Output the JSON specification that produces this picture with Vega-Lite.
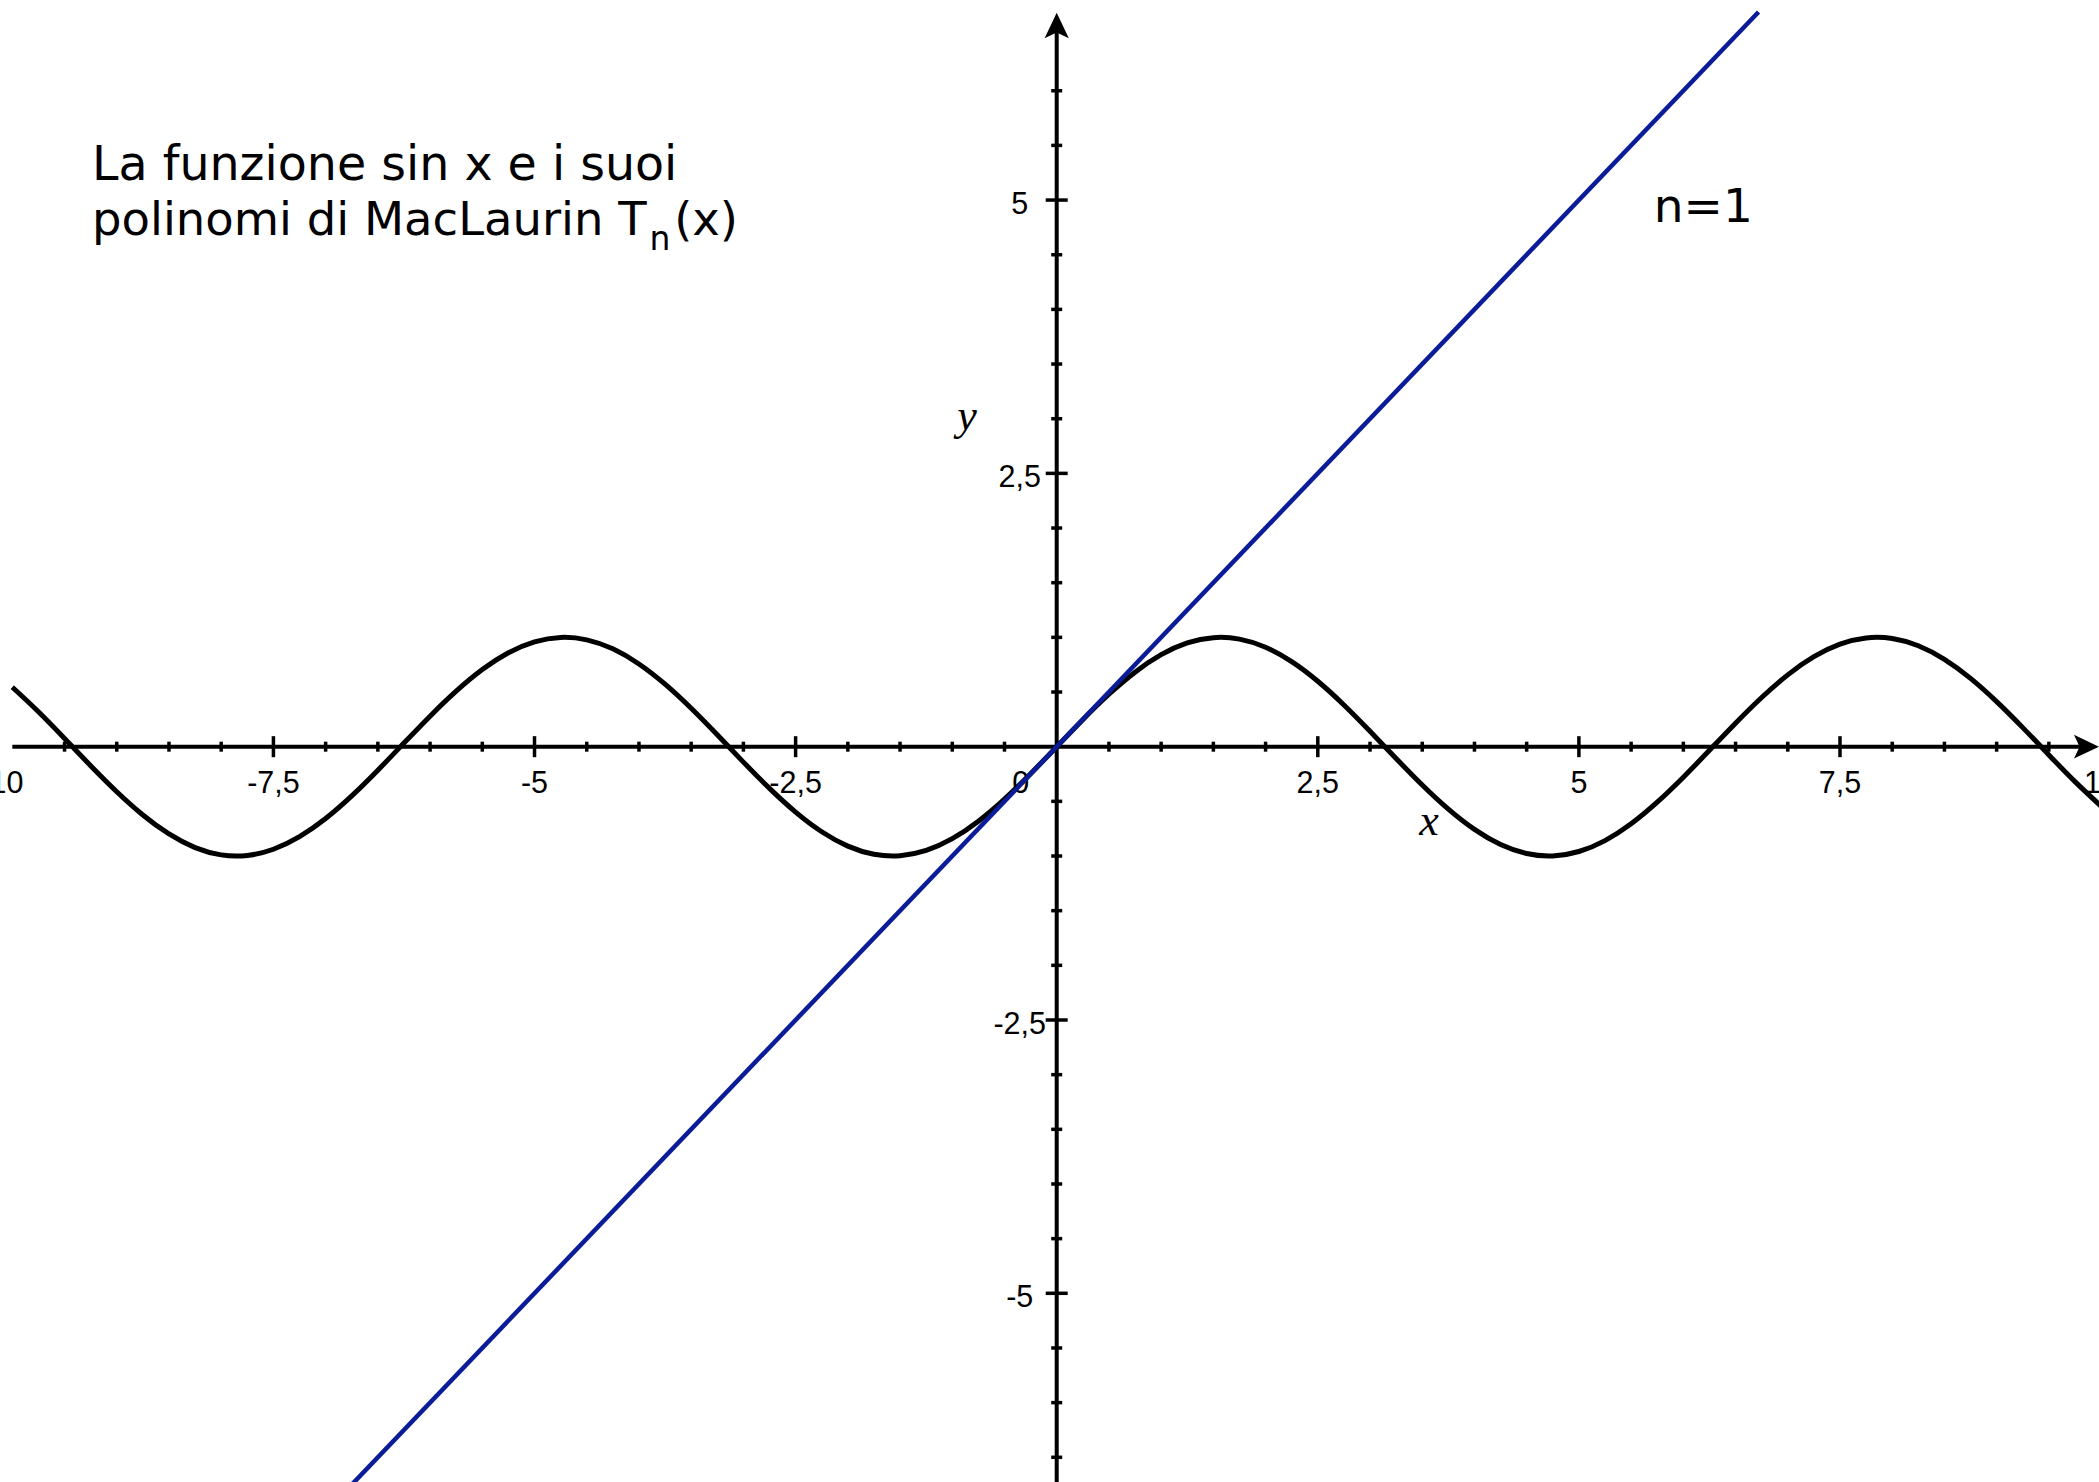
{
  "$schema": "https://vega.github.io/schema/vega-lite/v6.json",
  "width": 2099,
  "height": 1482,
  "autosize": {"type": "none"},
  "padding": 0,
  "background": "white",
  "config": {"view": {"stroke": null}},
  "datasets": {
    "xAxisLine": [{"x": -10, "x2": 9.8, "y": 0}],
    "yAxisLine": [{"x": 0, "y": -7, "y2": 6.55}],
    "xArrow": [{"x": 9.86, "y": 0}],
    "yArrow": [{"x": 0, "y": 6.597}],
    "xMajor": [{"x": -7.5, "y": 0}, {"x": -5, "y": 0}, {"x": -2.5, "y": 0}, {"x": 2.5, "y": 0}, {"x": 5, "y": 0}, {"x": 7.5, "y": 0}],
    "xMinor": [
      {"x": -9.5, "y": 0}, {"x": -9, "y": 0}, {"x": -8.5, "y": 0}, {"x": -8, "y": 0}, {"x": -7, "y": 0}, {"x": -6.5, "y": 0}, {"x": -6, "y": 0}, {"x": -5.5, "y": 0},
      {"x": -4.5, "y": 0}, {"x": -4, "y": 0}, {"x": -3.5, "y": 0}, {"x": -3, "y": 0}, {"x": -2, "y": 0}, {"x": -1.5, "y": 0}, {"x": -1, "y": 0}, {"x": -0.5, "y": 0},
      {"x": 0.5, "y": 0}, {"x": 1, "y": 0}, {"x": 1.5, "y": 0}, {"x": 2, "y": 0}, {"x": 3, "y": 0}, {"x": 3.5, "y": 0}, {"x": 4, "y": 0}, {"x": 4.5, "y": 0},
      {"x": 5.5, "y": 0}, {"x": 6, "y": 0}, {"x": 6.5, "y": 0}, {"x": 7, "y": 0}, {"x": 8, "y": 0}, {"x": 8.5, "y": 0}, {"x": 9, "y": 0}, {"x": 9.5, "y": 0}
    ],
    "yMajor": [{"x": 0, "y": -5}, {"x": 0, "y": -2.5}, {"x": 0, "y": 2.5}, {"x": 0, "y": 5}],
    "yMinor": [
      {"x": 0, "y": -6.5}, {"x": 0, "y": -6}, {"x": 0, "y": -5.5}, {"x": 0, "y": -4.5}, {"x": 0, "y": -4}, {"x": 0, "y": -3.5}, {"x": 0, "y": -3}, {"x": 0, "y": -2},
      {"x": 0, "y": -1.5}, {"x": 0, "y": -1}, {"x": 0, "y": -0.5}, {"x": 0, "y": 0.5}, {"x": 0, "y": 1}, {"x": 0, "y": 1.5}, {"x": 0, "y": 2}, {"x": 0, "y": 3},
      {"x": 0, "y": 3.5}, {"x": 0, "y": 4}, {"x": 0, "y": 4.5}, {"x": 0, "y": 5.5}, {"x": 0, "y": 6}
    ],
    "xLabels": [
      {"x": -7.5, "y": 0, "label": "-7,5"}, {"x": -5, "y": 0, "label": "-5"}, {"x": -2.5, "y": 0, "label": "-2,5"},
      {"x": 2.5, "y": 0, "label": "2,5"}, {"x": 5, "y": 0, "label": "5"}, {"x": 7.5, "y": 0, "label": "7,5"}
    ],
    "xLeftLabel": [{"x": -10, "y": 0, "label": "-10"}],
    "xRightLabel": [{"x": 10, "y": 0, "label": "10"}],
    "originLabel": [{"x": 0, "y": 0, "label": "0"}],
    "yLabels": [
      {"x": 0, "y": -5, "label": "-5"}, {"x": 0, "y": -2.5, "label": "-2,5"}, {"x": 0, "y": 2.5, "label": "2,5"}, {"x": 0, "y": 5, "label": "5"}
    ],
    "sine": [
      {"x": -10, "y": 0.544}, {"x": -9.75, "y": 0.3195}, {"x": -9.5, "y": 0.0752}, {"x": -9.25, "y": -0.1743}, {"x": -9, "y": -0.4121},
      {"x": -8.75, "y": -0.6247}, {"x": -8.5, "y": -0.7985}, {"x": -8.25, "y": -0.9228}, {"x": -8, "y": -0.9894}, {"x": -7.75, "y": -0.9946},
      {"x": -7.5, "y": -0.938}, {"x": -7.25, "y": -0.8231}, {"x": -7, "y": -0.657}, {"x": -6.75, "y": -0.45}, {"x": -6.5, "y": -0.2151},
      {"x": -6.25, "y": 0.0332}, {"x": -6, "y": 0.2794}, {"x": -5.75, "y": 0.5079}, {"x": -5.5, "y": 0.7055}, {"x": -5.25, "y": 0.8589},
      {"x": -5, "y": 0.9589}, {"x": -4.75, "y": 0.9993}, {"x": -4.5, "y": 0.9775}, {"x": -4.25, "y": 0.895}, {"x": -4, "y": 0.7568},
      {"x": -3.75, "y": 0.5716}, {"x": -3.5, "y": 0.3508}, {"x": -3.25, "y": 0.1082}, {"x": -3, "y": -0.1411}, {"x": -2.75, "y": -0.3817},
      {"x": -2.5, "y": -0.5985}, {"x": -2.25, "y": -0.7781}, {"x": -2, "y": -0.9093}, {"x": -1.75, "y": -0.984}, {"x": -1.5, "y": -0.9975},
      {"x": -1.25, "y": -0.949}, {"x": -1, "y": -0.8415}, {"x": -0.75, "y": -0.6816}, {"x": -0.5, "y": -0.4794}, {"x": -0.25, "y": -0.2474},
      {"x": 0, "y": 0},
      {"x": 0.25, "y": 0.2474}, {"x": 0.5, "y": 0.4794}, {"x": 0.75, "y": 0.6816}, {"x": 1, "y": 0.8415}, {"x": 1.25, "y": 0.949},
      {"x": 1.5, "y": 0.9975}, {"x": 1.75, "y": 0.984}, {"x": 2, "y": 0.9093}, {"x": 2.25, "y": 0.7781}, {"x": 2.5, "y": 0.5985},
      {"x": 2.75, "y": 0.3817}, {"x": 3, "y": 0.1411}, {"x": 3.25, "y": -0.1082}, {"x": 3.5, "y": -0.3508}, {"x": 3.75, "y": -0.5716},
      {"x": 4, "y": -0.7568}, {"x": 4.25, "y": -0.895}, {"x": 4.5, "y": -0.9775}, {"x": 4.75, "y": -0.9993}, {"x": 5, "y": -0.9589},
      {"x": 5.25, "y": -0.8589}, {"x": 5.5, "y": -0.7055}, {"x": 5.75, "y": -0.5079}, {"x": 6, "y": -0.2794}, {"x": 6.25, "y": -0.0332},
      {"x": 6.5, "y": 0.2151}, {"x": 6.75, "y": 0.45}, {"x": 7, "y": 0.657}, {"x": 7.25, "y": 0.8231}, {"x": 7.5, "y": 0.938},
      {"x": 7.75, "y": 0.9946}, {"x": 8, "y": 0.9894}, {"x": 8.25, "y": 0.9228}, {"x": 8.5, "y": 0.7985}, {"x": 8.75, "y": 0.6247},
      {"x": 9, "y": 0.4121}, {"x": 9.25, "y": 0.1743}, {"x": 9.5, "y": -0.0752}, {"x": 9.75, "y": -0.3195}, {"x": 10, "y": -0.544}
    ],
    "tangent": [{"x": -7.2, "y": -7.2}, {"x": 6.72, "y": 6.72}],
    "title1": [{"x": -9.237, "y": 5.185, "label": "La funzione sin x e i suoi"}],
    "title2": [{"x": -9.237, "y": 4.682, "label": "polinomi di MacLaurin T"}],
    "titleSub": [{"x": -3.899, "y": 4.545, "label": "n"}],
    "titleTail": [{"x": -3.663, "y": 4.682, "label": "(x)"}],
    "nLabel": [{"x": 5.717, "y": 4.801, "label": "n=1"}],
    "yName": [{"x": -0.859, "y": 2.898, "label": "y"}],
    "xName": [{"x": 3.566, "y": -0.808, "label": "x"}]
  },
  "encoding": {
    "x": {"field": "x", "type": "quantitative", "scale": {"domain": [-10.118, 9.98], "nice": false, "zero": false}, "axis": null},
    "y": {"field": "y", "type": "quantitative", "scale": {"domain": [-6.726, 6.83], "nice": false, "zero": false}, "axis": null}
  },
  "layer": [
    {"data": {"name": "xAxisLine"}, "mark": {"type": "rule", "color": "black", "strokeWidth": 4}, "encoding": {"x2": {"field": "x2"}}},
    {"data": {"name": "yAxisLine"}, "mark": {"type": "rule", "color": "black", "strokeWidth": 4}, "encoding": {"y2": {"field": "y2"}}},
    {"data": {"name": "xArrow"}, "mark": {"type": "point", "shape": "M1,0L-1,0.95L-0.55,0L-1,-0.95Z", "size": 625, "filled": true, "color": "black", "opacity": 1, "strokeWidth": 0}},
    {"data": {"name": "yArrow"}, "mark": {"type": "point", "shape": "M0,-1L0.95,1L0,0.55L-0.95,1Z", "size": 650, "filled": true, "color": "black", "opacity": 1, "strokeWidth": 0}},
    {"data": {"name": "xMajor"}, "mark": {"type": "tick", "orient": "vertical", "size": 21, "thickness": 3.5, "color": "black", "opacity": 1}},
    {"data": {"name": "xMinor"}, "mark": {"type": "tick", "orient": "vertical", "size": 10, "thickness": 3.5, "color": "black", "opacity": 1}},
    {"data": {"name": "yMajor"}, "mark": {"type": "tick", "orient": "horizontal", "size": 22, "thickness": 3.5, "color": "black", "opacity": 1}},
    {"data": {"name": "yMinor"}, "mark": {"type": "tick", "orient": "horizontal", "size": 11, "thickness": 3.5, "color": "black", "opacity": 1}},
    {"data": {"name": "xLabels"}, "mark": {"type": "text", "font": "Liberation Sans", "fontSize": 30.5, "align": "center", "baseline": "alphabetic", "dy": 46, "color": "black"}, "encoding": {"text": {"field": "label"}}},
    {"data": {"name": "xLeftLabel"}, "mark": {"type": "text", "font": "Liberation Sans", "fontSize": 30.5, "align": "center", "baseline": "alphabetic", "dx": -11, "dy": 46, "color": "black"}, "encoding": {"text": {"field": "label"}}},
    {"data": {"name": "xRightLabel"}, "mark": {"type": "text", "font": "Liberation Sans", "fontSize": 30.5, "align": "center", "baseline": "alphabetic", "dx": 0, "dy": 46, "color": "black"}, "encoding": {"text": {"field": "label"}}},
    {"data": {"name": "originLabel"}, "mark": {"type": "text", "font": "Liberation Sans", "fontSize": 30.5, "align": "center", "baseline": "alphabetic", "dx": -36, "dy": 46, "color": "black"}, "encoding": {"text": {"field": "label"}}},
    {"data": {"name": "yLabels"}, "mark": {"type": "text", "font": "Liberation Sans", "fontSize": 30.5, "align": "center", "baseline": "alphabetic", "dx": -37, "dy": 14, "color": "black"}, "encoding": {"text": {"field": "label"}}},
    {"data": {"name": "sine"}, "mark": {"type": "line", "color": "black", "strokeWidth": 5, "interpolate": "natural", "clip": true}},
    {"data": {"name": "tangent"}, "mark": {"type": "line", "color": "#0b1c98", "strokeWidth": 4.5, "clip": true}},
    {"data": {"name": "title1"}, "mark": {"type": "text", "font": "DejaVu Sans", "fontSize": 47.5, "align": "left", "baseline": "alphabetic", "color": "black"}, "encoding": {"text": {"field": "label"}}},
    {"data": {"name": "title2"}, "mark": {"type": "text", "font": "DejaVu Sans", "fontSize": 46.5, "align": "left", "baseline": "alphabetic", "color": "black"}, "encoding": {"text": {"field": "label"}}},
    {"data": {"name": "titleSub"}, "mark": {"type": "text", "font": "DejaVu Sans", "fontSize": 33, "align": "left", "baseline": "alphabetic", "color": "black"}, "encoding": {"text": {"field": "label"}}},
    {"data": {"name": "titleTail"}, "mark": {"type": "text", "font": "DejaVu Sans", "fontSize": 46.5, "align": "left", "baseline": "alphabetic", "color": "black"}, "encoding": {"text": {"field": "label"}}},
    {"data": {"name": "nLabel"}, "mark": {"type": "text", "font": "DejaVu Sans", "fontSize": 47, "align": "left", "baseline": "alphabetic", "color": "black"}, "encoding": {"text": {"field": "label"}}},
    {"data": {"name": "yName"}, "mark": {"type": "text", "font": "Liberation Serif", "fontStyle": "italic", "fontSize": 44, "align": "center", "baseline": "alphabetic", "color": "black"}, "encoding": {"text": {"field": "label"}}},
    {"data": {"name": "xName"}, "mark": {"type": "text", "font": "Liberation Serif", "fontStyle": "italic", "fontSize": 44, "align": "center", "baseline": "alphabetic", "color": "black"}, "encoding": {"text": {"field": "label"}}}
  ]
}
